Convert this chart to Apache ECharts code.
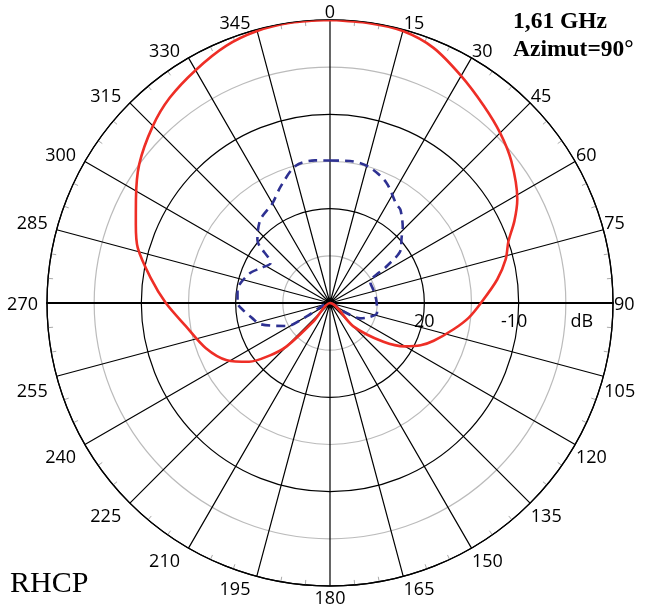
<!DOCTYPE html>
<html><head><meta charset="utf-8">
<script src="https://cdn.jsdelivr.net/npm/echarts@6/dist/echarts.min.js"></script>
<style>html,body{margin:0;padding:0;background:#fff}#c{width:649px;height:608px}</style>
</head><body><div id="c"></div>
<script>
// ---- data ----
const angleMin = 0, angleMax = 360, angleStep = 15;
const radiusMin = -30, radiusMax = 0, radiusStep = 5;
const radiusLabels = { '-20': '20', '-10': '-10', '-5': 'dB' };

const rhcpAngle = [0, 8, 15, 22, 30, 38, 45, 52, 61, 66, 71, 76, 82, 90, 96, 102, 110, 115, 120, 126, 135, 180, 222, 225, 229, 234, 241, 250, 261, 270, 278, 286, 292, 298, 306, 315, 322, 330, 338, 345, 352, 360];
const rhcpDb    = [0, -0.05, -0.15, -0.8, -2.2, -3.5, -4.5, -5.6, -7.3, -8.6, -10.0, -10.8, -12.1, -14.0, -15.2, -16.6, -18.3, -19.4, -20.8, -23.0, -26.5, -30, -27.4, -23.5, -21.5, -19.4, -17.5, -16.0, -14.5, -12.6, -10.8, -8.8, -7.8, -6.7, -5.0, -3.45, -2.4, -1.5, -0.6, -0.15, 0, 0];

const lhcpAngle = [0, 8, 16, 25, 34, 37, 44, 48, 53, 57, 63, 73, 85, 95, 102, 110, 117, 122, 180, 240, 242, 253, 259, 265, 270, 278, 290, 297, 304, 311, 320, 330, 337, 346, 354, 360];
const lhcpDb    = [-14.9, -14.8, -15.0, -15.9, -17.4, -17.6, -18.9, -19.8, -20.6, -22.8, -25.2, -25.2, -25.1, -25.0, -24.9, -25.6, -26.4, -28.3, -30, -27.1, -24.8, -22.3, -21.6, -20.8, -20.2, -20.1, -20.9, -21.8, -22.4, -19.8, -18.5, -17.8, -16.6, -15.0, -14.8, -14.9];

const titleLines = ['1,61 GHz', 'Azimut=90°'];
const cornerLabel = 'RHCP';

// ---- chart ----
const CX = 330, CY = 303, R = 283;
const FONT = '"Open Sans", "DejaVu Sans", sans-serif';

// Style keys that nudge each angle label to sit like the reference.
function angleLabelStyle(v) {
  const a = ((v % 360) + 360) % 360;
  const side = a === 0 || a === 180 ? 'C' : (a < 180 ? 'R' : 'L');
  let vert;
  if (a === 75 || a === 285) vert = 'up';
  else if (a === 105 || a === 255) vert = 'dn';
  else if (a === 90 || a === 270) vert = 'mid';
  else if (a < 75 || a > 285) vert = 'top';
  else vert = 'bot';
  let key = side + vert;
  if (a === 15 || a === 165 || a === 345 || a === 195) key += String(a).length;
  return key;
}
function st(extra) { return Object.assign({ fontSize: 18, fontFamily: FONT, color: '#000' }, extra); }
const rich = {
  Ctop: st({ lineHeight: 12 }),
  Cbot: st({ padding: [3, 0, 0, 0] }),
  Rtop: st({ lineHeight: 10 }),
  Rtop2: st({ lineHeight: 10, padding: [0, 0, 0, 21] }),
  Rup: st({ padding: [0, 0, 11, 0] }),
  Rmid: st({ padding: [4, 0, 0, 0] }),
  Rdn: st({ padding: [31, 0, 0, 0] }),
  Rbot: st({ padding: [4, 0, 0, 0] }),
  Rbot3: st({ padding: [4, 0, 0, 31] }),
  Ltop: st({ lineHeight: 10, padding: [0, 8, 0, 0] }),
  Ltop3: st({ lineHeight: 10, padding: [0, 43, 0, 0] }),
  Lup: st({ padding: [0, 8, 11, 0] }),
  Lmid: st({ padding: [4, 8, 0, 0] }),
  Ldn: st({ padding: [31, 8, 0, 0] }),
  Lbot: st({ padding: [4, 8, 0, 0] }),
  Lbot3: st({ padding: [4, 43, 0, 0] })
};

const chart = echarts.init(document.getElementById('c'), null, { renderer: 'canvas' });
chart.setOption({
  animation: false,
  backgroundColor: '#fff',
  title: [
    { text: titleLines.join('\n'), left: 513, top: 8, padding: 0,
      textStyle: { fontFamily: '"Liberation Serif", serif', fontWeight: 'bold', fontSize: 23.5, lineHeight: 28, color: '#000' } },
    { text: cornerLabel, left: 10, top: 569, padding: 0,
      textStyle: { fontFamily: '"Liberation Serif", serif', fontWeight: 'normal', fontSize: 30, color: '#000' } }
  ],
  polar: [
    { center: [CX, CY], radius: R },
    { center: [CX, CY], radius: R },
    { center: [CX, CY], radius: R }
  ],
  angleAxis: [
    { polarIndex: 0, type: 'value', min: angleMin, max: angleMax, interval: angleStep,
      startAngle: 90, clockwise: true,
      axisLine: { show: true, lineStyle: { color: '#000', width: 1.3 } },
      axisTick: { show: false, inside: true },
      minorTick: { show: true, splitNumber: 3, length: 5, lineStyle: { color: '#aaa', width: 1 } },
      splitLine: { show: true, lineStyle: { color: '#000', width: 1.2 } },
      axisLabel: {
        margin: 1,
        formatter: function (v) { if (v >= 360) return ''; return '{' + angleLabelStyle(v) + '|' + v + '}'; },
        rich: rich
      }
    },
    { polarIndex: 1, type: 'value', min: 0, max: 360, startAngle: 0, clockwise: true,
      axisLine: { show: false }, axisTick: { show: false }, axisLabel: { show: false }, splitLine: { show: false } },
    { polarIndex: 2, type: 'value', min: 0, max: 360, startAngle: 180, clockwise: true,
      axisLine: { show: false }, axisTick: { show: false }, axisLabel: { show: false }, splitLine: { show: false } }
  ],
  radiusAxis: [
    { polarIndex: 0, type: 'value', min: radiusMin, max: radiusMax, interval: radiusStep,
      axisLine: { show: false }, axisTick: { show: false }, axisLabel: { show: false },
      splitLine: { show: true, lineStyle: { color: ['#000', '#bbb'], width: 1.2 } } },
    { polarIndex: 1, type: 'value', min: radiusMin, max: radiusMax, interval: radiusStep,
      axisLine: { show: true, lineStyle: { color: '#000', width: 2 } }, axisTick: { show: false },
      splitLine: { show: false },
      axisLabel: {
        margin: -10, verticalAlign: 'top', fontSize: 18, fontFamily: FONT, color: '#000',
        formatter: function (v) {
          const t = radiusLabels[String(v)];
          if (!t) return '';
          if (t === 'dB') return '{d|' + t + '}';
          return t.length > 2 ? '{n|' + t + '}' : '{m|' + t + '}';
        },
        rich: {
          m: { fontSize: 18, fontFamily: FONT, color: '#000' },
          n: { fontSize: 18, fontFamily: FONT, color: '#000', padding: [0, 9, 0, 0] },
          d: { fontSize: 18, fontFamily: FONT, color: '#000', padding: [0, 0, 0, 32] }
        }
      } },
    { polarIndex: 2, type: 'value', min: radiusMin, max: radiusMax, interval: radiusStep,
      axisLine: { show: true, lineStyle: { color: '#000', width: 2 } }, axisTick: { show: false },
      splitLine: { show: false }, axisLabel: { show: false } }
  ],
  series: [
    { type: 'line', coordinateSystem: 'polar', polarIndex: 0, name: 'RHCP',
      data: rhcpAngle.map((a, i) => [rhcpDb[i], a]), smooth: 0.3, symbol: 'none',
      lineStyle: { color: '#ee2e26', width: 2.6 }, z: 5 },
    { type: 'line', coordinateSystem: 'polar', polarIndex: 0, name: 'LHCP',
      data: lhcpAngle.map((a, i) => [lhcpDb[i], a]), smooth: 0.3, symbol: 'none',
      lineStyle: { color: '#2e3192', width: 2.6, type: [9, 6] }, z: 4 }
  ]
});
</script>
</body></html>
